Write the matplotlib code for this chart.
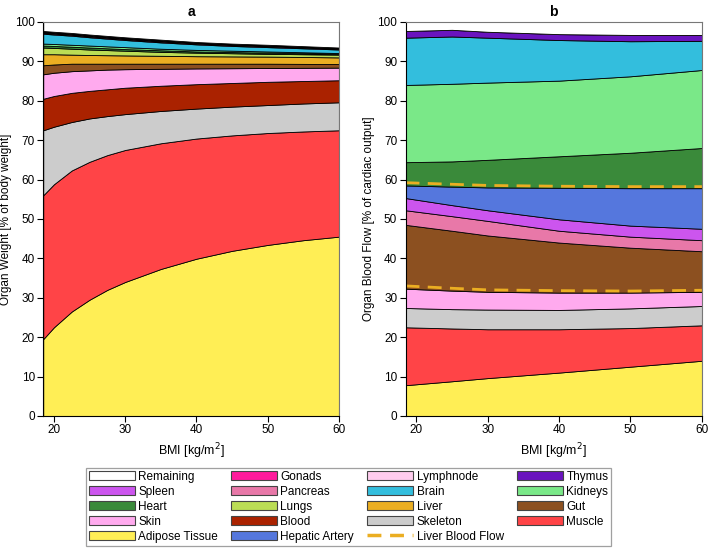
import numpy as np
import matplotlib
matplotlib.use("Agg")
import matplotlib.pyplot as plt
from matplotlib.patches import Patch
from matplotlib.lines import Line2D

plt.rcParams['font.family'] = ['Liberation Sans', 'DejaVu Sans']

# --- panel a: organ weight, upper edge of each layer [% body weight] ---
bmi_a = [18.5, 20, 22.5, 25, 27.5, 30, 35, 40, 45, 50, 55, 60]
weight_tops = {
    "Adipose Tissue": [19.5, 22.5, 26.5, 29.5, 32.0, 34.0, 37.3, 39.9, 41.9, 43.4, 44.6, 45.5],
    "Muscle":         [56.0, 58.8, 62.3, 64.5, 66.2, 67.5, 69.2, 70.4, 71.2, 71.8, 72.2, 72.5],
    "Skeleton":       [72.5, 73.4, 74.6, 75.5, 76.1, 76.6, 77.4, 78.0, 78.5, 78.9, 79.3, 79.6],
    "Blood":          [80.5, 81.2, 82.0, 82.5, 82.9, 83.3, 83.8, 84.2, 84.5, 84.8, 85.0, 85.2],
    "Skin":           [86.7, 87.1, 87.5, 87.7, 87.9, 88.0, 88.1, 88.2, 88.25, 88.3, 88.35, 88.4],
    "Gut":            [89.0, 89.2, 89.4, 89.4, 89.4, 89.4, 89.4, 89.4, 89.4, 89.4, 89.35, 89.3],
    "Liver":          [91.8, 91.8, 91.7, 91.6, 91.55, 91.5, 91.4, 91.3, 91.25, 91.2, 91.1, 91.0],
    "Lungs":          [93.5, 93.4, 93.2, 93.0, 92.85, 92.7, 92.4, 92.2, 92.05, 91.9, 91.8, 91.7],
    "Heart":          [94.0, 93.9, 93.7, 93.5, 93.3, 93.1, 92.8, 92.5, 92.35, 92.2, 92.05, 91.9],
    "Kidneys":        [94.5, 94.4, 94.2, 94.0, 93.8, 93.6, 93.2, 92.9, 92.7, 92.5, 92.3, 92.1],
    "Brain":          [97.0, 96.8, 96.5, 96.1, 95.75, 95.4, 94.8, 94.3, 93.9, 93.6, 93.3, 93.0],
    "Spleen":         [97.2, 97.0, 96.7, 96.3, 95.95, 95.6, 95.0, 94.5, 94.1, 93.8, 93.5, 93.2],
    "Pancreas":       [97.4, 97.2, 96.9, 96.5, 96.15, 95.8, 95.2, 94.7, 94.3, 94.0, 93.65, 93.3],
    "Gonads":         [97.5, 97.3, 97.0, 96.6, 96.25, 95.9, 95.3, 94.8, 94.4, 94.1, 93.75, 93.4],
    "Lymphnode":      [97.6, 97.4, 97.1, 96.7, 96.35, 96.0, 95.4, 94.85, 94.45, 94.15, 93.8, 93.45],
    "Thymus":         [97.7, 97.5, 97.2, 96.8, 96.45, 96.1, 95.5, 94.9, 94.5, 94.2, 93.85, 93.5],
    "Remaining":      [100, 100, 100, 100, 100, 100, 100, 100, 100, 100, 100, 100],
}

# --- panel b: blood flow, upper edge of each layer [% cardiac output] ---
bmi_b = [18.5, 25, 30, 40, 50, 60]
flow_tops = {
    "Adipose Tissue": [7.8, 8.8, 9.6, 11.0, 12.5, 14.0],
    "Muscle":         [22.5, 22.2, 22.0, 22.0, 22.3, 23.0],
    "Skeleton":       [27.4, 27.1, 27.0, 26.9, 27.3, 27.9],
    "Skin":           [32.3, 31.8, 31.5, 31.3, 31.3, 31.5],
    "Gut":            [48.5, 47.0, 45.8, 44.0, 42.7, 41.8],
    "Pancreas":       [52.2, 50.7, 49.5, 47.0, 45.5, 44.6],
    "Spleen":         [55.3, 53.5, 52.2, 49.9, 48.3, 47.5],
    "Hepatic Artery": [58.5, 58.2, 58.0, 57.9, 57.8, 57.8],
    "Heart":          [64.4, 64.6, 65.0, 65.9, 66.8, 68.0],
    "Kidneys":        [84.0, 84.3, 84.6, 85.1, 86.2, 87.8],
    "Brain":          [96.0, 96.3, 96.0, 95.4, 95.1, 95.2],
    "Thymus":         [97.7, 98.0, 97.5, 96.9, 96.7, 96.7],
    "Remaining":      [100, 100, 100, 100, 100, 100],
}
liver_low = [33.0, 32.4, 32.0, 31.8, 31.7, 31.9]
liver_high = [59.2, 58.8, 58.5, 58.3, 58.2, 58.2]

colors = {
    "Remaining": "#FFFFFF", "Gonads": "#FF1A9C", "Lymphnode": "#FFCCEE", "Thymus": "#6A14BE",
    "Spleen": "#CC55EE", "Pancreas": "#E878A8", "Brain": "#33BEDD", "Kidneys": "#7AE888",
    "Heart": "#3A8A3A", "Lungs": "#BBDD55", "Liver": "#EBAE22", "Gut": "#8C5020",
    "Skin": "#FFAAEE", "Blood": "#AA2200", "Skeleton": "#CCCCCC", "Muscle": "#FF4447",
    "Adipose Tissue": "#FFEE55", "Hepatic Artery": "#5577DD",
}
liver_color = "#EBAE22"


def stack(ax, x, tops):
    below = np.zeros(len(x))
    for name, top in tops.items():
        top = np.array(top, dtype=float)
        ax.fill_between(x, below, top, facecolor=colors[name], edgecolor="black", linewidth=0.6)
        below = top


fig = plt.figure(figsize=(7.09, 5.48), dpi=100)
ax1 = fig.add_axes([0.061, 0.241, 0.417, 0.719])
ax2 = fig.add_axes([0.572, 0.241, 0.418, 0.719])

stack(ax1, bmi_a, weight_tops)
stack(ax2, bmi_b, flow_tops)
ax2.plot(bmi_b, liver_low, color=liver_color, lw=2, dashes=(5, 3))
ax2.plot(bmi_b, liver_high, color=liver_color, lw=2, dashes=(5, 3))

for ax, title, ylab in [(ax1, "a", "Organ Weight [% of body weight]"),
                        (ax2, "b", "Organ Blood Flow [% of cardiac output]")]:
    ax.set_xlim(18.5, 60)
    ax.set_ylim(0, 100)
    ax.set_xticks([20, 30, 40, 50, 60])
    ax.set_yticks(range(0, 101, 10))
    ax.tick_params(labelsize=8.5, length=4, pad=2, direction="out")
    ax.set_xlabel("BMI [kg/m$^2$]", fontsize=9)
    ax.set_ylabel(ylab, fontsize=8.5, labelpad=2)
    ax.set_title(title, fontsize=10, fontweight="bold", pad=4)
    for side in ["top", "right"]:
        ax.spines[side].set_color("#777777")

order = ["Remaining", "Spleen", "Heart", "Skin", "Adipose Tissue",
         "Gonads", "Pancreas", "Lungs", "Blood", "Hepatic Artery",
         "Lymphnode", "Brain", "Liver", "Skeleton", "Liver Blood Flow",
         "Thymus", "Kidneys", "Gut", "Muscle"]
handles = []
for name in order:
    if name == "Liver Blood Flow":
        handles.append(Line2D([], [], color=liver_color, lw=2.5, dashes=(4, 2.5), label=name))
    else:
        handles.append(Patch(facecolor=colors[name], edgecolor="#444444", linewidth=0.8, label=name))

leg = fig.legend(handles=handles, loc="upper center", bbox_to_anchor=(0.4915, 0.146),
                 ncol=4, fontsize=8.5, frameon=True, fancybox=False, edgecolor="#888888",
                 handlelength=3.9, handleheight=0.8, handletextpad=0.3, labelspacing=0.25,
                 columnspacing=1.1, borderpad=0.25, borderaxespad=0)
leg.get_frame().set_linewidth(0.9)

fig.savefig("out.png", dpi=100)
